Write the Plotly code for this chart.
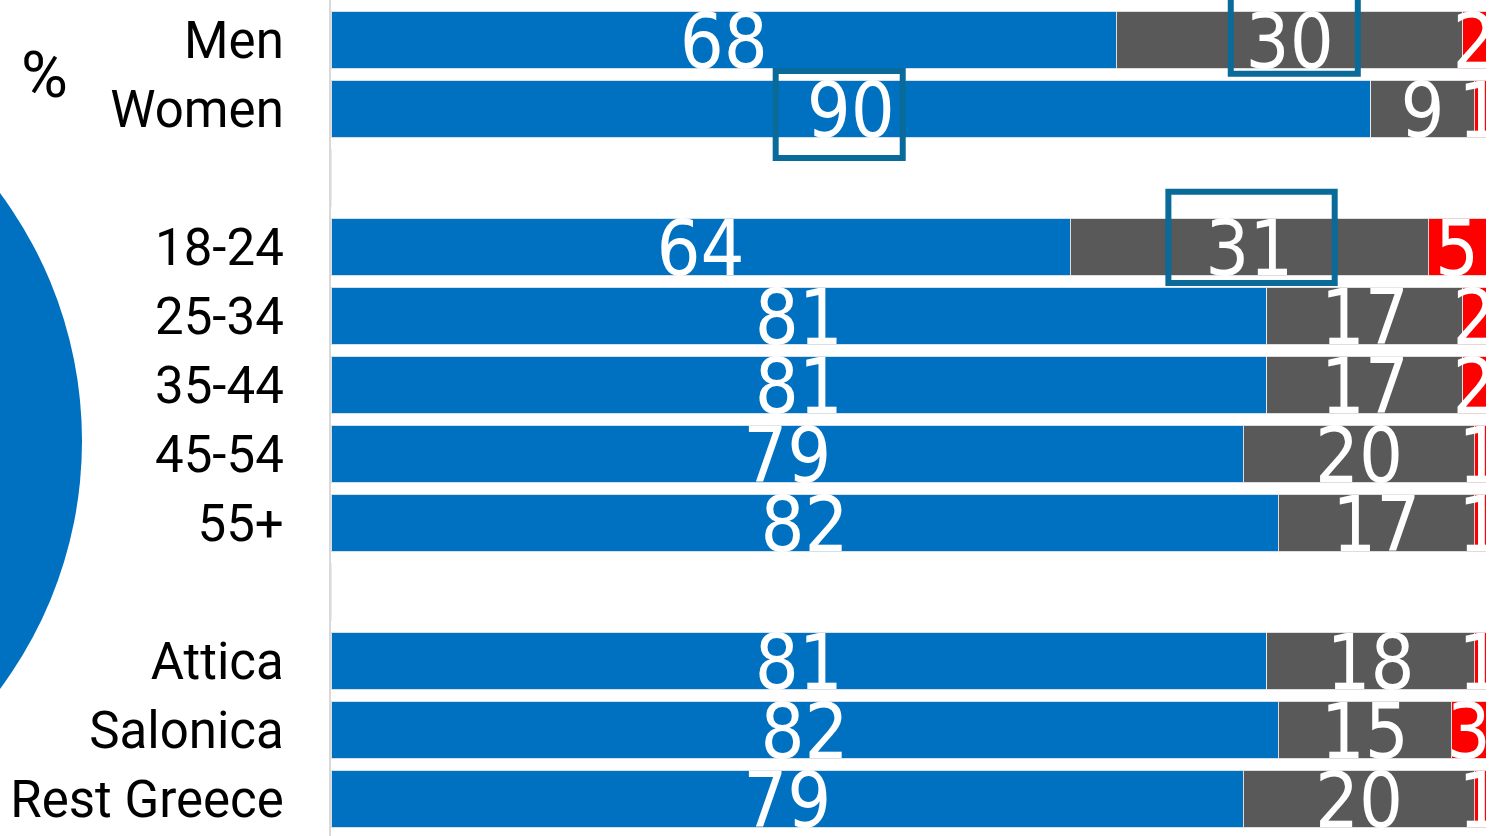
import plotly.graph_objects as go

categories = ["Men", "Women", "", "18-24", "25-34", "35-44", "45-54", "55+", "", "Attica", "Salonica", "Rest Greece"]
blue_vals = [68, 90, None, 64, 81, 81, 79, 82, None, 81, 82, 79]
gray_vals = [30, 9, None, 31, 17, 17, 20, 17, None, 18, 15, 20]
red_vals = [2, 1, None, 5, 2, 2, 1, 1, None, 1, 3, 1]
highlight = [(0, "gray"), (1, "blue"), (3, "gray")]

BLUE = "#0070C0"
GRAY = "#595959"
RED = "#FF0000"
BOX = "#0A6B9A"

ypos = list(range(len(categories)))
fig = go.Figure()
for vals, col in [(blue_vals, BLUE), (gray_vals, GRAY), (red_vals, RED)]:
    fig.add_trace(go.Bar(
        y=ypos, x=[v if v is not None else 0 for v in vals], orientation="h",
        marker=dict(color=col, line=dict(color="rgba(235,235,235,0.9)", width=1)),
        width=0.83, hoverinfo="skip", showlegend=False))

# labels centred in each segment
tx, ty, tt = [], [], []
mids = {}
for i in range(len(categories)):
    if blue_vals[i] is None:
        continue
    start = 0
    for name, vals in [("blue", blue_vals), ("gray", gray_vals), ("red", red_vals)]:
        m = start + vals[i] / 2
        mids[(i, name)] = m
        tx.append(m); ty.append(i + 0.12); tt.append(str(vals[i]))
        start += vals[i]
fig.add_trace(go.Scatter(
    x=tx, y=ty, text=tt, mode="text", textposition="middle center",
    textfont=dict(family="DejaVu Sans Condensed, DejaVu Sans", size=77, color="white"),
    cliponaxis=True, hoverinfo="skip", showlegend=False))

# highlight boxes around selected labels (half-width, x shift, y extents)
box_dims = {0: (5.5, 0.4, -0.75, 0.49), 1: (5.5, -1.0, -0.55, 0.71), 3: (7.2, 0.2, -0.8, 0.52)}
for i, seg in highlight:
    hw, dx, dy0, dy1 = box_dims[i]
    m = mids[(i, seg)] + dx
    fig.add_shape(type="rect", xref="x", yref="y", x0=m - hw, x1=m + hw,
                  y0=i + dy0, y1=i + dy1, line=dict(color=BOX, width=6),
                  fillcolor="rgba(0,0,0,0)", layer="above")

W, H = 1499, 836
L, R = 331, 13
pw = W - L - R
def px2paper_x(px):
    return (px - L) / pw
def px2paper_y(py):
    return 1 - py / H

# decorative circle on left
cx, cy, rad = -334, 441, 416
fig.add_shape(type="circle", xref="paper", yref="paper",
              x0=px2paper_x(cx - rad), x1=px2paper_x(cx + rad),
              y0=px2paper_y(cy + rad), y1=px2paper_y(cy - rad),
              fillcolor=BLUE, line=dict(width=0), layer="below")

fig.add_annotation(text="%", xref="paper", yref="paper", x=px2paper_x(44), y=px2paper_y(75),
                   showarrow=False, xanchor="center", yanchor="middle",
                   font=dict(family="Roboto", size=64, color="black"))

fig.update_layout(
    width=W, height=H, barmode="stack", bargap=0.17,
    plot_bgcolor="white", paper_bgcolor="white",
    margin=dict(l=L, r=R, t=0, b=0),
    xaxis=dict(range=[0, 100], visible=False, fixedrange=True),
    yaxis=dict(range=[11.5 + 2.5 / 69, -0.5 - 5.5 / 69], tickmode="array",
               tickvals=ypos, ticktext=categories, showgrid=False, zeroline=False,
               showline=True, linecolor="#D9D9D9", linewidth=2,
               ticks="", ticklabelstandoff=35, fixedrange=True,
               tickfont=dict(family="Roboto", size=51, color="black")),
)
fig.write_html("out.html", config={"displayModeBar": False},
               post_script="document.body.style.margin='0px';document.body.style.overflow='hidden';")
